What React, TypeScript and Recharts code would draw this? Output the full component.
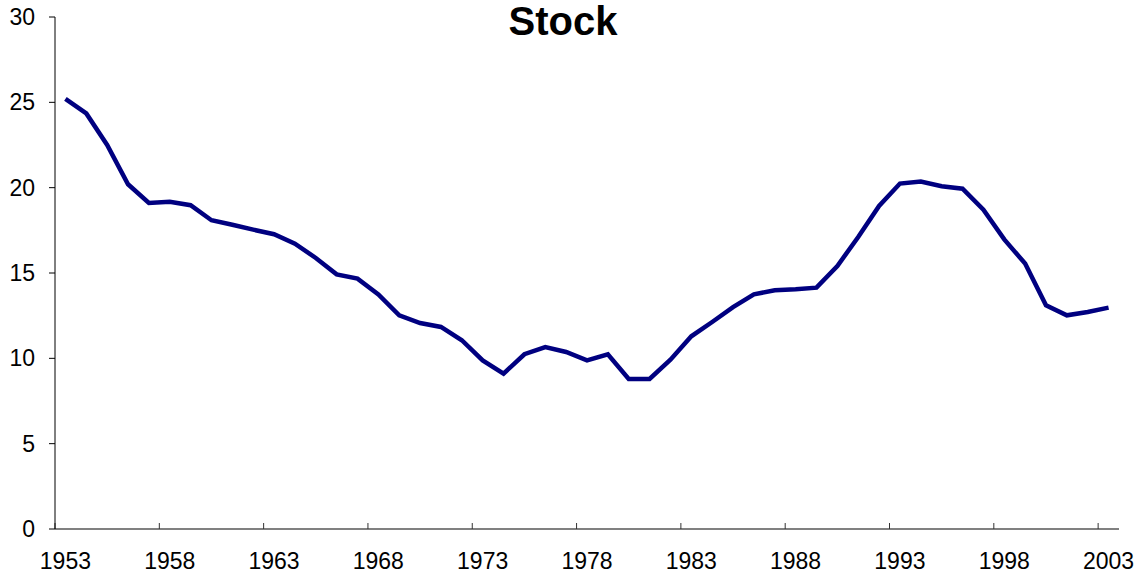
import React from 'react';
import { LineChart, Line, XAxis, YAxis } from 'recharts';

// one value per year, 1953..2003
const years = [
  1953, 1954, 1955, 1956, 1957, 1958, 1959, 1960, 1961, 1962,
  1963, 1964, 1965, 1966, 1967, 1968, 1969, 1970, 1971, 1972,
  1973, 1974, 1975, 1976, 1977, 1978, 1979, 1980, 1981, 1982,
  1983, 1984, 1985, 1986, 1987, 1988, 1989, 1990, 1991, 1992,
  1993, 1994, 1995, 1996, 1997, 1998, 1999, 2000, 2001, 2002,
  2003,
];

const stock = [
  25.2, 24.35, 22.5, 20.2, 19.1, 19.18, 18.97, 18.09, 17.83, 17.54,
  17.27, 16.72, 15.88, 14.92, 14.67, 13.75, 12.52, 12.07, 11.84, 11.06,
  9.88, 9.1, 10.24, 10.66, 10.37, 9.88, 10.24, 8.79, 8.79, 9.92,
  11.29, 12.13, 13.0, 13.75, 13.99, 14.05, 14.14, 15.41, 17.11, 18.93,
  20.24, 20.36, 20.08, 19.94, 18.71, 16.97, 15.55, 13.11, 12.52, 12.72,
  12.97,
];

const labelYears = [1953, 1958, 1963, 1968, 1973, 1978, 1983, 1988, 1993, 1998, 2003];
const yTicks = [0, 5, 10, 15, 20, 25, 30];

const data = years.map((year, i) => ({ year, stock: stock[i] }));

// category axis style: tick marks sit between years, labels under the year
const xTicks = labelYears.map((y) => y - 0.5);

const font = '"Liberation Sans", Arial, sans-serif';

export default function App() {
  return (
    <div style={{ position: 'absolute', left: 0, top: 0, width: 1141, height: 578, background: '#fff' }}>
      <div
        style={{
          position: 'absolute',
          left: 0,
          top: 1,
          width: 1126,
          textAlign: 'center',
          fontFamily: font,
          fontWeight: 'bold',
          fontSize: 40,
          lineHeight: '40px',
          color: '#000',
        }}
      >
        Stock
      </div>
      <LineChart width={1141} height={578} data={data} margin={{ top: 17, right: 22, left: 0, bottom: 0 }}>
        <XAxis
          dataKey="year"
          type="number"
          domain={[1952.5, 2003.5]}
          ticks={xTicks}
          tickFormatter={(v: number) => String(v + 0.5)}
          height={49}
          stroke="#808080"
          axisLine={{ stroke: '#808080', strokeWidth: 2 }}
          tickLine={{ stroke: '#333', strokeWidth: 1 }}
          tickSize={-6}
          tickMargin={30}
          tick={{ fontSize: 23, fill: '#000', fontFamily: font, dx: 10.4 }}
          allowDataOverflow
        />
        <YAxis
          domain={[0, 30]}
          ticks={yTicks}
          width={55}
          axisLine={{ stroke: '#000', strokeWidth: 1 }}
          tickLine={{ stroke: '#000', strokeWidth: 1 }}
          tickSize={6}
          tickMargin={14}
          tick={{ fontSize: 23, fill: '#000', fontFamily: font }}
        />
        <Line
          type="linear"
          dataKey="stock"
          stroke="#000080"
          strokeWidth={4.5}
          dot={false}
          isAnimationActive={false}
        />
      </LineChart>
    </div>
  );
}
